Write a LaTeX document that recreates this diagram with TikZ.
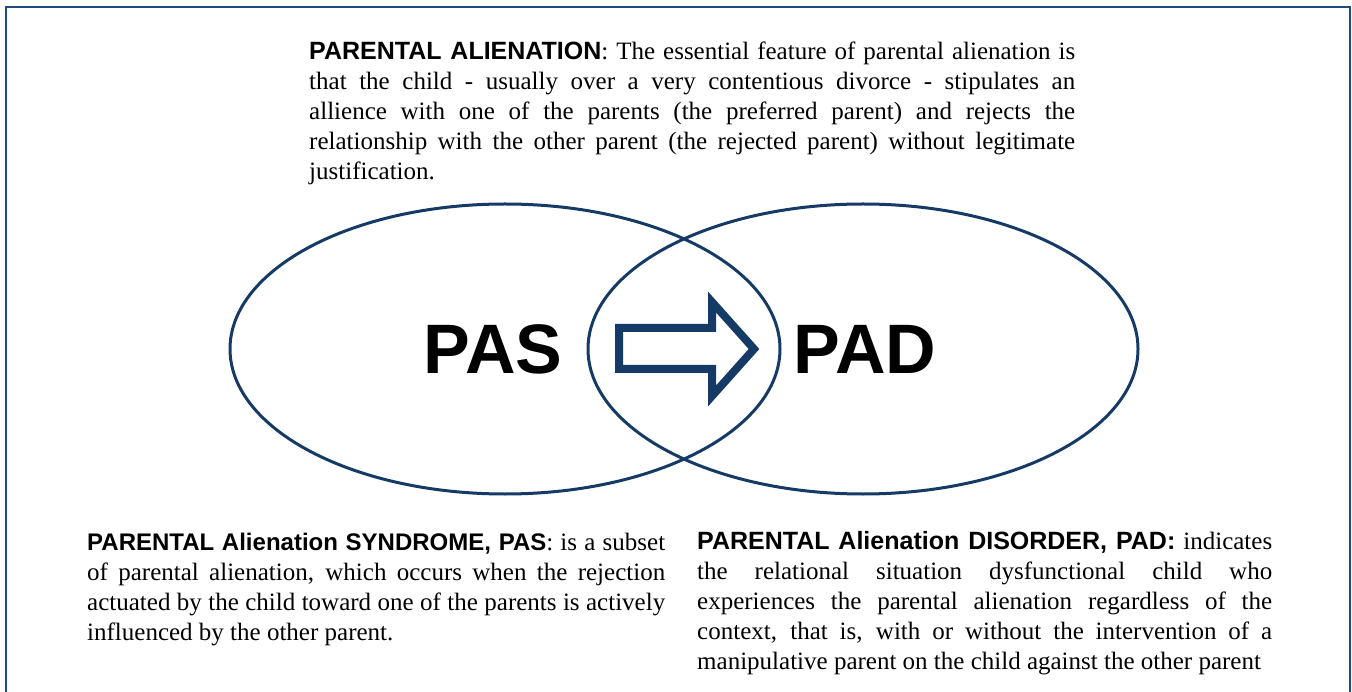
\documentclass[tikz,border=0pt]{standalone}
\usepackage{fontspec}
\setmainfont{Liberation Serif}
\newfontfamily\headfont{Liberation Sans}
\definecolor{navy}{RGB}{22,58,102}
\definecolor{framecol}{RGB}{32,74,130}
\begin{document}
\begin{tikzpicture}[x=1pt,y=-1pt,
  para/.style={text width=#1, align=justify, inner sep=0pt, anchor=base west,
    font=\fontsize{25}{30}\selectfont},
  hd/.style={},
  big/.style={inner sep=0pt, anchor=base, font=\headfont\bfseries\fontsize{70}{70}\selectfont},
  ell/.style={draw=navy, line width=3pt}]
\useasboundingbox (0,0) rectangle (1352,692);
% frame
\draw[framecol, line width=2pt] (6,692) -- (6,7.5) -- (1350,7.5) -- (1350,692);
% ellipses
\draw[ell] (505,349) ellipse [x radius=275, y radius=145];
\draw[ell] (863,349) ellipse [x radius=275, y radius=145];
% block arrow
\draw[navy, line width=8pt, line join=miter]
  (619,328) -- (712,328) -- (712,302) -- (754,349) -- (712,396) -- (712,369) -- (619,369) -- cycle;
% labels
\node[big] (pas) at (493,374) {PAS};
\node[big] (pad) at (865,374) {PAD};
% paragraphs
\node[para=766pt] (pa) at (309,60) {{\headfont\bfseries PARENTAL ALIENATION}: The essential feature of parental alienation is\linebreak that the child - usually over a very contentious divorce - stipulates an\linebreak allience with one of the parents (the preferred parent) and rejects the\linebreak relationship with the other parent (the rejected parent) without legitimate\linebreak justification.};
\node[para=578pt] (pasd) at (87,550) {{\headfont\bfseries\fontsize{24}{30}\selectfont PARENTAL Alienation SYNDROME, PAS}: is a subset\linebreak of parental alienation, which occurs when the rejection\linebreak actuated by the child toward one of the parents is actively\linebreak influenced by the other parent.};
\node[para=575pt] (padd) at (697,549) {{\headfont\bfseries PARENTAL Alienation DISORDER, PAD:} indicates\linebreak the relational situation dysfunctional child who\linebreak experiences the parental alienation regardless of the\linebreak context, that is, with or without the intervention of a\linebreak manipulative parent on the child against the other parent};
\end{tikzpicture}
\end{document}
